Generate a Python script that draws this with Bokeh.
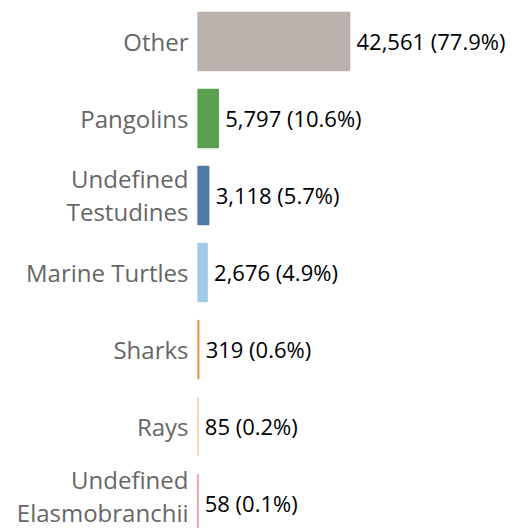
from bokeh.plotting import figure
from bokeh.models import ColumnDataSource, Range1d, FixedTicker
from bokeh.core.properties import value
from bokeh.embed import file_html
from bokeh.resources import INLINE

categories = ["Other", "Pangolins", "Undefined\nTestudines", "Marine Turtles",
              "Sharks", "Rays", "Undefined\nElasmobranchii"]
counts = [42561, 5797, 3118, 2676, 319, 85, 58]
colors = ["#BAB0AC", "#59A14F", "#4E79A7", "#A0CBE8", "#F28E2B", "#FFBE7D", "#E15759"]

total = sum(counts)
ypos = [-i for i in range(len(categories))]
labels = [f"{c:,} ({c / total * 100:.1f}%)" for c in counts]

src = ColumnDataSource(dict(y=ypos, v=counts, c=colors, lab=labels))

p = figure(width=513, height=528, output_backend="svg", toolbar_location=None,
           x_range=Range1d(0, 88482), y_range=Range1d(-6.325, 0.532),
           min_border_left=197, min_border_right=0, min_border_top=0, min_border_bottom=0,
           x_axis_location=None)
p.outline_line_color = None
p.grid.visible = False
p.background_fill_color = "white"

p.hbar(y="y", left=0, right="v", height=0.753, fill_color="c", line_color="c",
       line_width=1.5, source=src)
p.text(x="v", y="y", text="lab", source=src, x_offset=7, text_baseline="middle",
       text_align="left", text_font=value("Open Sans"), text_font_size="22px",
       text_color="#000000")

ax = p.yaxis[0]
ax.ticker = FixedTicker(ticks=ypos)
ax.major_label_overrides = {y: c for y, c in zip(ypos, categories)}
ax.axis_line_color = None
ax.major_tick_line_color = None
ax.minor_tick_line_color = None
ax.major_tick_out = 0
ax.major_tick_in = 0
ax.major_label_standoff = 9
ax.major_label_text_font = "Open Sans"
ax.major_label_text_font_size = "24px"
ax.major_label_text_color = "#666666"
ax.major_label_text_line_height = 1.0

open("out.html", "w").write(file_html(p, INLINE))
